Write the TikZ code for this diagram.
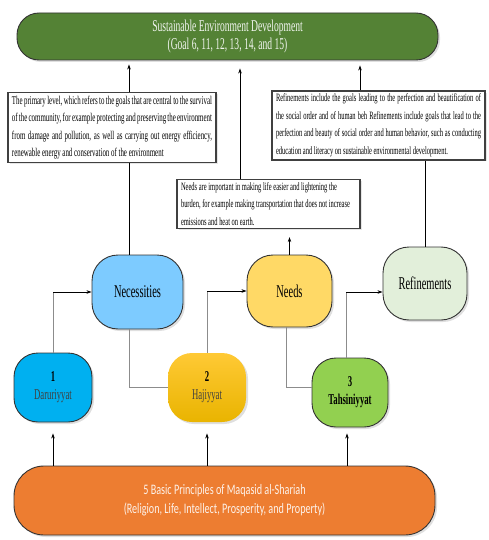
\documentclass[tikz,border=0pt]{standalone}
\usepackage{fontspec}
\setmainfont{Liberation Serif}[FakeStretch=0.58]
\newfontfamily\calfont{Carlito}[FakeStretch=0.7]
\usetikzlibrary{arrows.meta,shadows}

\definecolor{goalgreen}{HTML}{548235}
\definecolor{necblue}{HTML}{7DCBFF}
\definecolor{needyellow}{HTML}{FFD966}
\definecolor{refgreen}{HTML}{E2EFDA}
\definecolor{darblue}{HTML}{00B0F0}
\definecolor{hajtop}{HTML}{FFC935}
\definecolor{hajbot}{HTML}{E9B400}
\definecolor{tahgreen}{HTML}{92D050}
\definecolor{baseorange}{HTML}{ED7D31}
\definecolor{linegray}{HTML}{8C8C8C}

\tikzset{
  pill/.style={draw=black!80, line width=0.9pt, rounded corners=#1, align=center, inner sep=0pt,
    drop shadow={opacity=0.25, shadow xshift=2pt, shadow yshift=-2pt}},
  level/.style={pill=26pt, font=\fontsize{18}{22}\selectfont},
  basic/.style={pill=24pt, font=\fontsize{15}{18}\selectfont},
  infobox/.style={draw=black!75, line width=1.2pt, fill=white, inner xsep=4pt, inner ysep=3pt,
    font=\fontsize{11.2}{17.5}\selectfont,
    drop shadow={opacity=0.2, shadow xshift=1.5pt, shadow yshift=-1.5pt}},
  conn/.style={linegray, line width=0.7pt},
  arr/.style={->, line width=0.7pt}
}

\begin{document}
\begin{tikzpicture}[x=1pt, y=-1pt, >={Stealth[length=5pt,width=3.5pt]}]
\useasboundingbox (0,0) rectangle (489,540);

\node[pill=22pt, fill=goalgreen, minimum width=421, minimum height=47,
  text=white!92!goalgreen, font=\fontsize{16.5}{18}\selectfont] (goal) at (227.5,36.5)
  {Sustainable Environment Development\\(Goal 6, 11, 12, 13, 14, and 15)};

\node[infobox, text width=200, align=justify, font=\fontsize{11.9}{17.5}\selectfont] (leftbox) at (112,127.5)
  {The primary level, which refers to the goals that are central to the survival of the community, for example protecting and preserving the environment from damage and pollution, as well as carrying out energy efficiency, renewable energy and conservation of the environment};
\node[infobox, text width=205, align=justify] (rightbox) at (378.5,125.5)
  {Refinements include the goals leading to the perfection and beautification of the social order and of human beh Refinements include goals that lead to the perfection and beauty of social order and human behavior, such as conducting education and literacy on sustainable environmental development.};
\node[infobox, text width=175, align=flush left] (needbox) at (268.5,204)
  {Needs are important in making life easier and lightening the burden, for example making transportation that does not increase emissions and heat on earth.};

\node[level, fill=necblue, minimum width=91, minimum height=74] (nec) at (137.5,292) {Necessities};
\node[level, fill=needyellow, minimum width=85, minimum height=72] (needs) at (289.5,291) {Needs};
\node[level, fill=refgreen, minimum width=84, minimum height=73] (ref) at (425,283.5) {Refinements};

\node[basic, fill=darblue, minimum width=78, minimum height=69, text=black!75] (dar) at (53,387.5)
  {\textbf{\textcolor{black}{1}}\\Daruriyyat};
\node[basic, draw=none, top color=hajtop, bottom color=hajbot, minimum width=78, minimum height=69, text=black!75] (haj) at (207,387.5)
  {\textbf{\textcolor{black}{2}}\\Hajiyyat};
\node[basic, fill=tahgreen, minimum width=76, minimum height=69, font=\fontsize{15}{18}\selectfont\bfseries] (tah) at (350,392.5)
  {3\\Tahsiniyyat};

\node[pill=30pt, fill=baseorange, minimum width=421, minimum height=69,
  text=white!90!baseorange, font=\calfont\fontsize{14.5}{19}\selectfont] (base) at (224.5,500.5)
  {5 Basic Principles of Maqasid al-Shariah\\(Religion, Life, Intellect, Prosperity, and Property)};

\coordinate (necline) at ([xshift=-8.5]nec.north);

% up to the goal
\draw[arr, shorten >=4pt] (necline |- leftbox.north) -- (necline |- goal.south);
\draw[arr, shorten >=8pt] ([xshift=-28.5]needbox.north) -- ([xshift=-28.5]needbox.north |- goal.south);
\draw[arr, shorten >=5pt] ([xshift=-18.5]rightbox.north) -- ([xshift=-18.5]rightbox.north |- goal.south);
% levels to their boxes
\draw[line width=0.7pt] (necline) -- (necline |- leftbox.south);
\draw[arr, shorten >=8pt] (needs.north) -- (needs.north |- needbox.south);
\draw[line width=0.7pt] (ref.north) -- (ref.north |- rightbox.south);
% basics to levels
\draw[conn] (dar.north) -- (dar.north |- nec.west);
\draw[arr] (dar.north |- nec.west) -- (nec.west);
\draw[conn] (haj.north) -- (haj.north |- needs.west);
\draw[arr] (haj.north |- needs.west) -- (needs.west);
\draw[conn] ([xshift=-4]tah.north) -- ([xshift=-4]tah.north |- nec.west);
\draw[arr] ([xshift=-4]tah.north |- nec.west) -- (nec.west -| ref.west);
\draw[conn] (necline |- nec.south) |- (haj.west);
\draw[conn] ([xshift=-3.5]needs.south) |- ([yshift=5]tah.west);
% principles up
\draw[arr, shorten >=11pt] (dar.south |- base.north) -- (dar.south);
\draw[arr, shorten >=11pt] (haj.south |- base.north) -- (haj.south);
\draw[arr, shorten >=6pt] ([xshift=-3]tah.south |- base.north) -- ([xshift=-3]tah.south);
\end{tikzpicture}
\end{document}
